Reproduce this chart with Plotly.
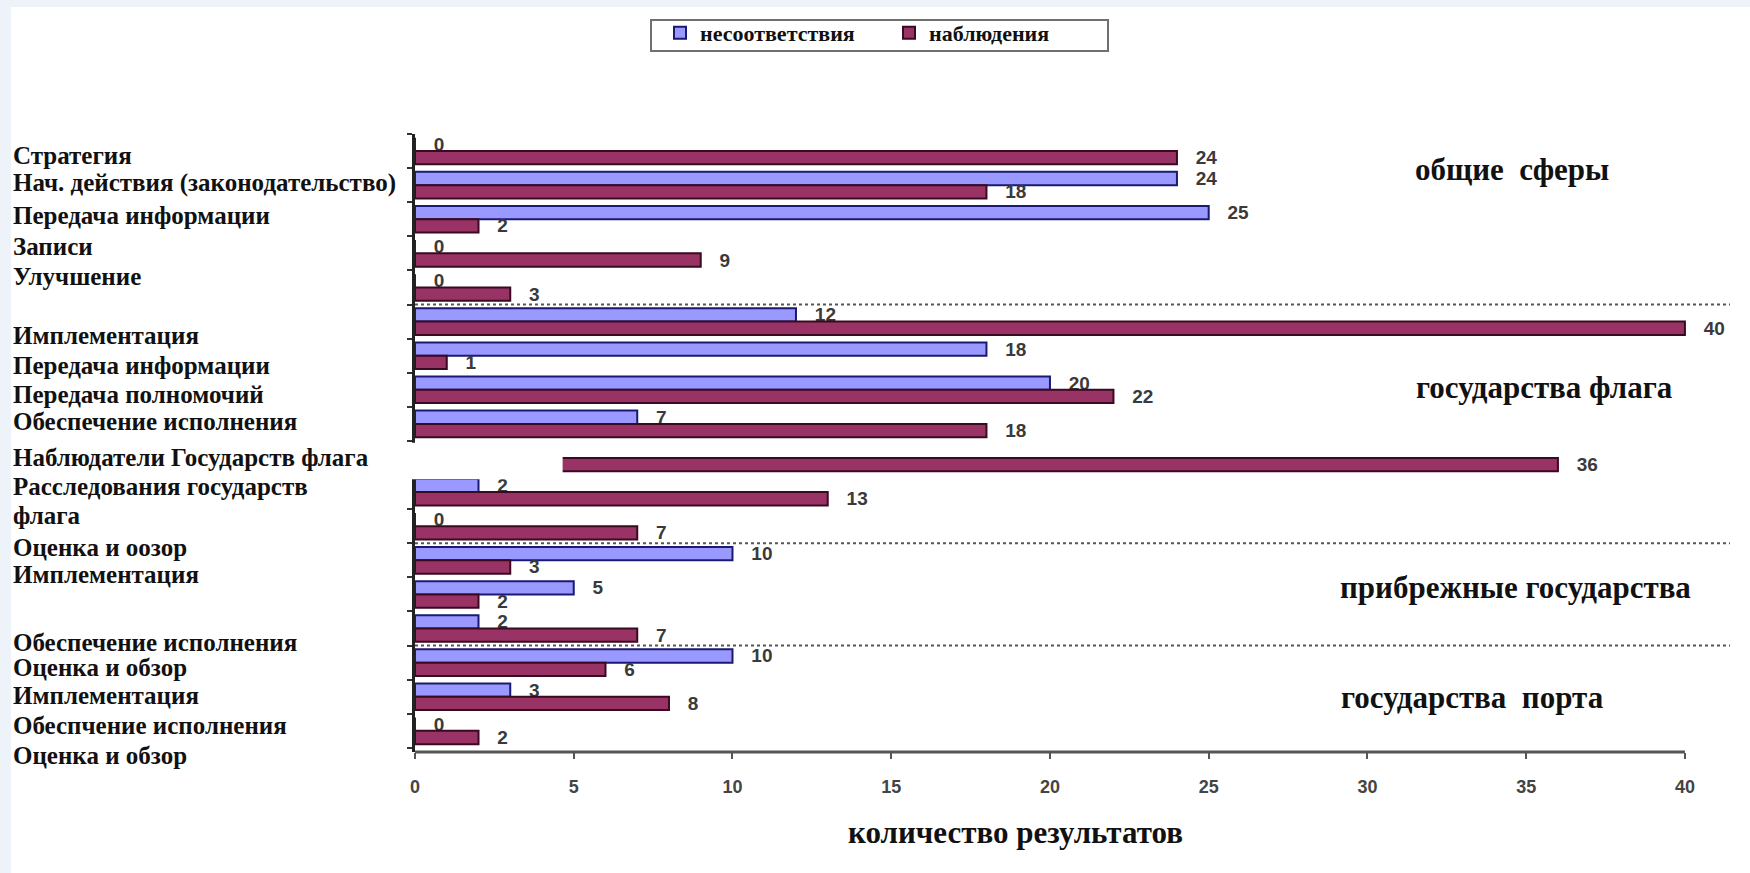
import plotly.graph_objects as go

# ---- data ----
series_nc_name = "несоответствия"
series_obs_name = "наблюдения"
nc_values = [0, 24, 25, 0, 0, 12, 18, 20, 7, None, 2, 0, 10, 5, 2, 10, 3, 0]
obs_values = [24, 18, 2, 9, 3, 40, 1, 22, 18, 36, 13, 7, 3, 2, 7, 6, 8, 2]
row_index = list(range(len(obs_values)))

row_labels = [
    "Стратегия",
    "Нач. действия (законодательство)",
    "Передача информации",
    "Записи",
    "Улучшение",
    "Имплементация",
    "Передача информации",
    "Передача полномочий",
    "Обеспечение исполнения",
    "Наблюдатели Государств флага",
    "Расследования государств",
    "флага",
    "Оценка и оозор",
    "Имплементация",
    "Обеспечение исполнения",
    "Оценка и обзор",
    "Имплементация",
    "Обеспчение исполнения",
    "Оценка и обзор",
]
# vertical placement of the (hand-placed) text labels, in row units
row_label_pos = [0.14, 0.93, 1.90, 2.79, 3.67, 5.40, 6.29, 7.14, 7.93, 8.99,
                 9.84, 10.70, 11.61, 12.43, 14.40, 15.14, 15.96, 16.84, 17.71]

group_labels = ["общие  сферы", "государства флага", "прибрежные государства", "государства  порта"]
group_label_pos = [0.53, 6.92, 12.80, 16.03]
group_label_x = [1413, 1414, 1338, 1339]
group_separators = [4.5, 11.5, 14.5]

x_ticks = [0, 5, 10, 15, 20, 25, 30, 35, 40]
x_title = "количество результатов"

# ---- layout geometry (pixels) ----
W, H = 1750, 873
L, R, T, B = 415, 1730, 134, 752
pw, ph = R - L, B - T
def px_x(p):
    return (p - L) / pw
def px_y(p):
    return (B - p) / ph

x_max = 41.42
y_range = [17.62, -0.5]
pitch = ph / (y_range[0] - y_range[1])
def row_y(pos):
    return px_y(T + (pos - y_range[1]) * pitch)

NC_FILL, NC_LINE = "#9999FF", "#1a1a70"
OBS_FILL, OBS_LINE = "#993366", "#3a0a20"
SERIF = "Liberation Serif, Times New Roman, serif"
SANS = "Liberation Sans, Arial, sans-serif"

fig = go.Figure()
fig.add_trace(go.Bar(
    name="<b>%s</b>" % series_nc_name, y=row_index, x=nc_values, orientation="h",
    marker=dict(color=NC_FILL, line=dict(color=NC_LINE, width=2)),
    text=[None if v is None else str(v) for v in nc_values],
    texttemplate="\u00a0\u00a0\u00a0%{text}", textposition="outside",
    textfont=dict(family=SANS, size=19, color="#3a3a3a", weight="bold"),
    constraintext="none", cliponaxis=False,
))
fig.add_trace(go.Bar(
    name="<b>%s</b>" % series_obs_name, y=row_index, x=obs_values, orientation="h",
    marker=dict(color=OBS_FILL, line=dict(color=OBS_LINE, width=2)),
    text=[str(v) for v in obs_values],
    texttemplate="\u00a0\u00a0\u00a0%{text}", textposition="outside",
    textfont=dict(family=SANS, size=19, color="#3a3a3a", weight="bold"),
    constraintext="none", cliponaxis=False,
))

shapes = []
# page background: faint blue strip top/left, white elsewhere
shapes.append(dict(type="rect", xref="paper", yref="paper", layer="below",
                   x0=px_x(11), x1=px_x(W + 20), y0=px_y(H + 20), y1=px_y(7),
                   fillcolor="white", line=dict(width=0)))
# legend frame
shapes.append(dict(type="rect", xref="paper", yref="paper", layer="below",
                   x0=px_x(651), x1=px_x(1108), y0=px_y(51), y1=px_y(20),
                   fillcolor="white", line=dict(color="#707070", width=2)))
# dotted separators between groups
for s in group_separators:
    shapes.append(dict(type="line", xref="x", yref="y", x0=0, x1=x_max, y0=s, y1=s,
                       line=dict(color="#555555", width=2, dash="dot")))
# x axis line from 0 to 40
shapes.append(dict(type="line", xref="x", yref="paper", x0=0, x1=x_ticks[-1], y0=0, y1=0,
                   line=dict(color="#555555", width=3)))
# white patch present in the picture over the start of row 10
shapes.append(dict(type="rect", xref="paper", yref="y", layer="above",
                   x0=px_x(398), x1=4.65 / x_max, y0=8.55, y1=9.62,
                   fillcolor="white", line=dict(width=0)))

annotations = []
for txt, pos in zip(row_labels, row_label_pos):
    annotations.append(dict(text="<b>%s</b>" % txt, xref="paper", yref="paper",
                            x=px_x(11), y=row_y(pos), xanchor="left", yanchor="middle",
                            showarrow=False,
                            font=dict(family=SERIF, size=25, color="#111111")))
for txt, pos, gx in zip(group_labels, group_label_pos, group_label_x):
    annotations.append(dict(text="<b>%s</b>" % txt.replace("  ", "\u00a0 "), xref="paper", yref="paper",
                            x=px_x(gx), y=row_y(pos), xanchor="left", yanchor="middle",
                            showarrow=False,
                            font=dict(family=SERIF, size=31, color="#111111")))
annotations.append(dict(text="<b>%s</b>" % x_title, xref="paper", yref="paper",
                        x=px_x(1015), y=px_y(832), xanchor="center", yanchor="middle",
                        showarrow=False, font=dict(family=SERIF, size=31, color="#111111")))

fig.update_layout(
    width=W, height=H,
    margin=dict(l=L, r=W - R, t=T, b=H - B, pad=0),
    font=dict(family=SERIF, color="#111111"),
    paper_bgcolor="#eef2f9", plot_bgcolor="white",
    barmode="group", bargap=0.22, bargroupgap=0,
    showlegend=True,
    legend=dict(orientation="h", x=px_x(660), y=px_y(12), xanchor="left", yanchor="top",
                bgcolor="rgba(0,0,0,0)", borderwidth=0,
                font=dict(family=SERIF, size=22, color="#111111"),
                entrywidth=184, traceorder="normal"),
    xaxis=dict(range=[0, x_max], tickmode="array", tickvals=x_ticks,
               ticktext=[str(t) for t in x_ticks],
               showgrid=False, zeroline=False, showline=False,
               ticks="outside", ticklen=6, tickwidth=2, tickcolor="#555555",
               ticklabelstandoff=12,
               tickfont=dict(family=SANS, size=18, color="#444444", weight="bold")),
    yaxis=dict(range=y_range, showgrid=False, zeroline=False,
               showline=True, linecolor="#222222", linewidth=3,
               tickmode="array", tickvals=[i - 0.5 for i in range(len(obs_values) + 1)],
               ticks="outside", ticklen=5, tickwidth=2, tickcolor="#333333",
               showticklabels=False),
    shapes=shapes, annotations=annotations,
)

fig.write_html("out.html")
